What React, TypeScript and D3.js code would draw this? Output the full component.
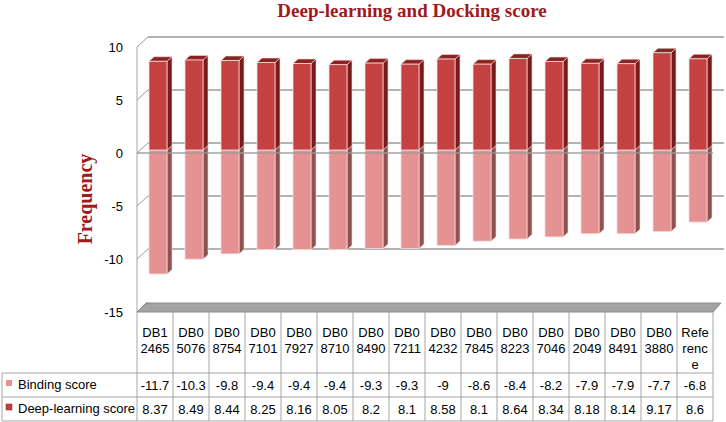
import * as d3 from 'd3';
import React from 'react';

const compounds = [
    'DB12465', 'DB05076', 'DB08754', 'DB07101', 'DB07927', 'DB08710', 'DB08490', 'DB07211',
    'DB04232', 'DB07845', 'DB08223', 'DB07046', 'DB02049', 'DB08491', 'DB03880', 'Reference',
];
const headerLines = [
    ['DB1', '2465'], ['DB0', '5076'], ['DB0', '8754'], ['DB0', '7101'], ['DB0', '7927'], ['DB0', '8710'],
    ['DB0', '8490'], ['DB0', '7211'], ['DB0', '4232'], ['DB0', '7845'], ['DB0', '8223'], ['DB0', '7046'],
    ['DB0', '2049'], ['DB0', '8491'], ['DB0', '3880'], ['Refe', 'renc', 'e'],
];
const bindingScore = [-11.7, -10.3, -9.8, -9.4, -9.4, -9.4, -9.3, -9.3, -9, -8.6, -8.4, -8.2, -7.9, -7.9, -7.7, -6.8];
const deepScore = [8.37, 8.49, 8.44, 8.25, 8.16, 8.05, 8.2, 8.1, 8.58, 8.1, 8.64, 8.34, 8.18, 8.14, 9.17, 8.6];
const yTicks = [10, 5, 0, -5, -10, -15];
const gridTicks = [5, 0, -5, -10];

const App = (): React.ReactElement => {
    const width = 726;
    const height = 422;
    const left = 137;
    const right = 713;
    const depthX = 11;
    const depthY = -10;
    const barDX = 5;
    const barDY = -4.5;
    const shift = 3;

    const x = d3.scaleBand<string>().domain(compounds).range([left, right]);
    const y = d3.scaleLinear().domain([-15, 10]).range([312, 47]);

    const font = "'Liberation Sans', Arial, sans-serif";
    const serif = "'Liberation Serif', 'Times New Roman', serif";
    const gridColor = '#9a9a9a';
    const lineColor = '#a6a6a6';

    const bar = (i: number, v: number, front: string, side: string, top: string | null) => {
        const bx = (x(compounds[i]) as number) + 12;
        const bw = 18;
        const y0 = y(0) - shift;
        const y1 = y(v) - shift;
        const yt = Math.min(y0, y1);
        const yb = Math.max(y0, y1);
        const sidePts = [
            [bx + bw, yt], [bx + bw + barDX, yt + barDY], [bx + bw + barDX, yb + barDY], [bx + bw, yb],
        ];
        const topPts = [
            [bx, yt], [bx + barDX, yt + barDY], [bx + bw + barDX, yt + barDY], [bx + bw, yt],
        ];
        return (
            <g key={`${i}-${v}`}>
                <polygon points={sidePts.map((p) => p.join(',')).join(' ')} fill={side} stroke="#f3d6d6" strokeWidth={0.6} />
                {top && (
                    <polygon points={topPts.map((p) => p.join(',')).join(' ')} fill={top} stroke="#f3d6d6" strokeWidth={0.6} />
                )}
                <rect x={bx} y={yt} width={bw} height={yb - yt} fill={front} stroke="#f6dcdc" strokeWidth={0.8} />
            </g>
        );
    };

    const rowY = [373, 397, 421];

    return (
        <svg width={width} height={height} style={{ position: 'absolute', left: 0, top: 0 }}>
            <rect width={width} height={height} fill="#ffffff" />
            <text x={412} y={17} textAnchor="middle" fontFamily={serif} fontWeight="bold" fontSize={19} fill="#a0191c">
                Deep-learning and Docking score
            </text>
            <text
                transform="translate(92,199) rotate(-90)"
                textAnchor="middle"
                fontFamily={serif}
                fontWeight="bold"
                fontSize={20}
                fill="#a0191c"
            >
                Frequency
            </text>

            {/* back wall */}
            <line x1={left + depthX} x2={right + depthX} y1={y(10) + depthY} y2={y(10) + depthY} stroke={gridColor} strokeWidth={1.5} />
            {gridTicks.map((t) => (
                <line key={t} x1={left + depthX} x2={right + depthX} y1={y(t) + depthY} y2={y(t) + depthY} stroke={gridColor} strokeWidth={1.5} />
            ))}
            {/* left wall */}
            <line x1={left} x2={left} y1={y(10)} y2={y(-15)} stroke={lineColor} strokeWidth={1} />
            {yTicks.map((t) => (
                <g key={t}>
                    <line x1={left} y1={y(t)} x2={left + depthX} y2={y(t) + depthY} stroke={gridColor} strokeWidth={1} />
                    <text x={123} y={y(t) + 4.5} textAnchor="end" fontFamily={font} fontSize={13} fill="#000">
                        {t}
                    </text>
                </g>
            ))}
            {/* floor */}
            <polygon
                points={`${left},${y(-15)} ${left + depthX - 2},${y(-15) + depthY + 1} ${right + depthX - 3},${y(-15) + depthY + 1} ${right},${y(-15)}`}
                fill="#a3a3a3"
                stroke="#8a8a8a"
                strokeWidth={1}
            />

            {bindingScore.map((v, i) => bar(i, v, '#e69292', '#8e5252', null))}
            {deepScore.map((v, i) => bar(i, v, '#c44141', '#7a1a1a', '#8c2222'))}

            {/* zero plane front edge */}
            <line x1={left} x2={right} y1={y(0)} y2={y(0)} stroke={gridColor} strokeWidth={1.5} opacity={0.9} />

            {/* data table */}
            <g stroke={lineColor} strokeWidth={1}>
                {compounds.map((c) => (
                    <line key={c} x1={x(c) as number} x2={x(c) as number} y1={y(-15)} y2={421} />
                ))}
                <line x1={right} x2={right} y1={y(-15)} y2={421} />
                {rowY.map((ry) => (
                    <line key={ry} x1={2} x2={right} y1={ry} y2={ry} />
                ))}
                <line x1={2} x2={2} y1={373} y2={421} />
            </g>
            {headerLines.map((lines, i) =>
                lines.map((s, j) => (
                    <text
                        key={`${i}-${j}`}
                        x={(x(compounds[i]) as number) + x.bandwidth() / 2}
                        y={337 + j * 16}
                        textAnchor="middle"
                        fontFamily={font}
                        fontSize={13}
                        fill="#000"
                    >
                        {s}
                    </text>
                )),
            )}
            <rect x={6} y={380} width={6} height={6} fill="#e69292" />
            <text x={18} y={389} fontFamily={font} fontSize={13} fill="#000">Binding score</text>
            <rect x={6} y={404} width={6} height={6} fill="#c44141" stroke="#7a1a1a" strokeWidth={0.5} />
            <text x={18} y={413} fontFamily={font} fontSize={13} fill="#000">Deep-learning score</text>
            {bindingScore.map((v, i) => (
                <text
                    key={`b${i}`}
                    x={(x(compounds[i]) as number) + x.bandwidth() / 2}
                    y={390}
                    textAnchor="middle"
                    fontFamily={font}
                    fontSize={13}
                    fill="#000"
                >
                    {v}
                </text>
            ))}
            {deepScore.map((v, i) => (
                <text
                    key={`d${i}`}
                    x={(x(compounds[i]) as number) + x.bandwidth() / 2}
                    y={414}
                    textAnchor="middle"
                    fontFamily={font}
                    fontSize={13}
                    fill="#000"
                >
                    {v}
                </text>
            ))}
        </svg>
    );
};

export default App;
